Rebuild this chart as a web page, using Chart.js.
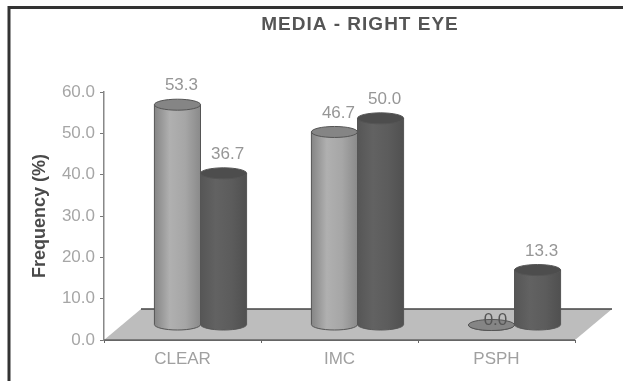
<!DOCTYPE html>
<html>
<head>
<meta charset="utf-8">
<script src="https://cdn.jsdelivr.net/npm/chart.js@4"></script>
<style>
  html, body { margin: 0; padding: 0; background: #fff; overflow: hidden; }
  #wrap { position: relative; width: 623px; height: 381px; filter: blur(0.7px); }
</style>
</head>
<body>
<div id="wrap"><canvas id="chart" width="623" height="381"></canvas></div>
<script>
const chartTitle = "MEDIA - RIGHT EYE";
const categories = ["CLEAR", "IMC", "PSPH"];
const lightValues = [53.3, 46.7, 0.0];
const darkValues = [36.7, 50.0, 13.3];
const yTicks = [0, 10, 20, 30, 40, 50, 60];

const font = "'Liberation Sans', Arial, sans-serif";

// floor depth of the fake 3D box, bars stand halfway back
const floorDX = 37;
const floorDY = 31;
const barDX = 18;
const barDY = 15;
const capRY = 5.5;

function cylinder(ctx, x, top, base, w, sideStops, capColor) {
  const r = w / 2;
  const grad = ctx.createLinearGradient(x - r, 0, x + r, 0);
  sideStops.forEach((c, i) => grad.addColorStop(i / (sideStops.length - 1), c));
  ctx.beginPath();
  ctx.moveTo(x - r, top);
  ctx.lineTo(x - r, base);
  ctx.ellipse(x, base, r, capRY, 0, Math.PI, 0, true);
  ctx.lineTo(x + r, top);
  ctx.closePath();
  ctx.fillStyle = grad;
  ctx.fill();
  ctx.strokeStyle = "#555";
  ctx.lineWidth = 1;
  ctx.stroke();
  ctx.beginPath();
  ctx.ellipse(x, top, r, capRY, 0, 0, Math.PI * 2);
  ctx.fillStyle = capColor;
  ctx.fill();
  ctx.stroke();
}

const box3d = {
  id: "box3d",
  beforeDraw(chart) {
    const ctx = chart.ctx;
    ctx.save();
    ctx.fillStyle = "#fff";
    ctx.fillRect(0, 0, chart.width, chart.height);
    // frame only shows on the top and left, the rest is cropped off
    ctx.strokeStyle = "#333";
    ctx.lineWidth = 3;
    ctx.beginPath();
    ctx.moveTo(9, chart.height);
    ctx.lineTo(9, 7.5);
    ctx.lineTo(chart.width, 7.5);
    ctx.stroke();
    ctx.fillStyle = "#555";
    ctx.font = "bold 19px " + font;
    ctx.letterSpacing = "1px";
    ctx.textAlign = "center";
    ctx.textBaseline = "middle";
    ctx.fillText(chartTitle, 360, 25);
    ctx.restore();
  },
  beforeDatasetsDraw(chart) {
    const { ctx, chartArea: a } = chart;
    ctx.save();
    ctx.beginPath();
    ctx.moveTo(a.left, a.bottom);
    ctx.lineTo(a.right, a.bottom);
    ctx.lineTo(a.right + floorDX, a.bottom - floorDY);
    ctx.lineTo(a.left + floorDX, a.bottom - floorDY);
    ctx.closePath();
    ctx.fillStyle = "#bdbdbd";
    ctx.fill();
    ctx.lineWidth = 1.5;
    ctx.strokeStyle = "#666";
    ctx.beginPath();
    ctx.moveTo(a.left, a.bottom);
    ctx.lineTo(a.right, a.bottom);
    ctx.stroke();
    ctx.strokeStyle = "#444";
    ctx.beginPath();
    ctx.moveTo(a.left + floorDX, a.bottom - floorDY);
    ctx.lineTo(a.right + floorDX, a.bottom - floorDY);
    ctx.stroke();
    ctx.restore();
  },
  afterDatasetsDraw(chart) {
    const ctx = chart.ctx;
    const looks = [
      { side: ["#858585", "#b0b0b0", "#a6a6a6", "#8a8a8a"], cap: "#858585" },
      { side: ["#565656", "#626262", "#5c5c5c", "#505050"], cap: "#4d4d4d" }
    ];
    ctx.save();
    categories.forEach((_, i) => {
      chart.data.datasets.forEach((ds, d) => {
        const el = chart.getDatasetMeta(d).data[i];
        const x = el.x + barDX;
        const top = el.y - barDY;
        cylinder(ctx, x, top, el.base - barDY, el.width, looks[d].side, looks[d].cap);
        const v = ds.data[i];
        ctx.fillStyle = v === 0 ? "#555" : "#969696";
        ctx.font = "17px " + font;
        ctx.textAlign = "center";
        ctx.textBaseline = "middle";
        ctx.fillText(v.toFixed(1), x + 4, top - (v === 0 ? 5 : 19));
      });
    });
    ctx.restore();
  }
};

new Chart(document.getElementById("chart"), {
  type: "bar",
  data: {
    labels: categories,
    datasets: [
      { label: "Light", data: lightValues, backgroundColor: "transparent" },
      { label: "Dark", data: darkValues, backgroundColor: "transparent" }
    ]
  },
  options: {
    responsive: false,
    animation: false,
    categoryPercentage: 0.587,
    barPercentage: 1,
    layout: { padding: { left: 29, right: 48, top: 92, bottom: 11 } },
    plugins: { legend: { display: false }, tooltip: { enabled: false } },
    scales: {
      x: {
        grid: { offset: true, drawOnChartArea: false, tickLength: 3, color: "#666" },
        border: { color: "#666" },
        ticks: { color: "#a0a0a0", font: { family: font, size: 17 }, padding: 6, maxRotation: 0 },
        afterFit(scale) { scale.height = 30; }
      },
      y: {
        min: 0,
        max: 60,
        afterBuildTicks(scale) { scale.ticks = yTicks.map(v => ({ value: v })); },
        grid: { drawOnChartArea: false, tickLength: 4, color: "#777" },
        border: { color: "#888", width: 1.5 },
        ticks: { color: "#a6a6a6", font: { family: font, size: 17 }, padding: 5, callback: v => v.toFixed(1) },
        title: {
          display: true,
          text: "Frequency (%)",
          color: "#4a4a4a",
          font: { family: font, size: 18, weight: "bold" },
          padding: 0
        },
        afterFit(scale) { scale.width = 75; }
      }
    }
  },
  plugins: [box3d]
});
</script>
</body>
</html>
